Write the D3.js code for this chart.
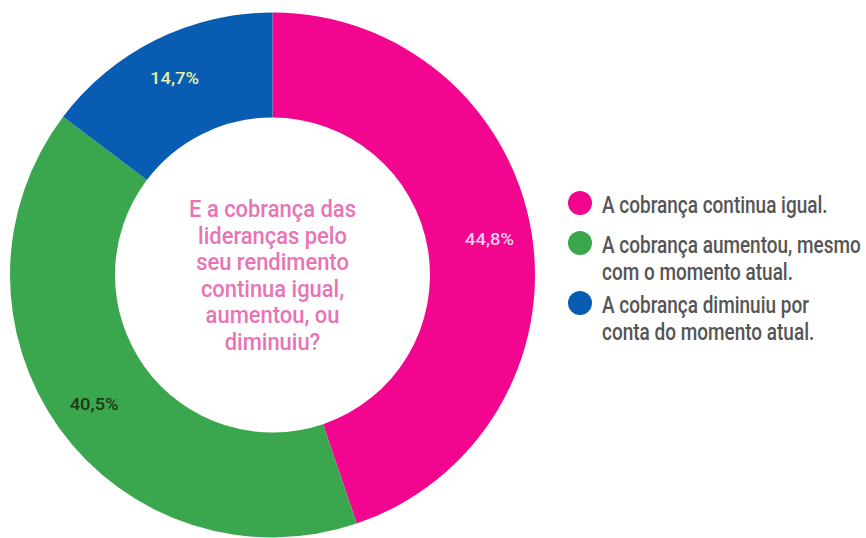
<!DOCTYPE html>
<html>
<head>
<meta charset="utf-8">
<script src="https://cdn.jsdelivr.net/npm/d3@7"></script>
<style>
  html, body { margin: 0; padding: 0; background: #ffffff; }
  svg { display: block; }
  text { font-family: "Roboto", "Noto Sans", sans-serif; font-weight: 500; }
</style>
</head>
<body>
<svg id="chart" width="866" height="538"></svg>
<script>
// Survey answers and their shares (%)
const categories = [
  "A cobrança continua igual.",
  "A cobrança aumentou, mesmo com o momento atual.",
  "A cobrança diminuiu por conta do momento atual."
];
const values = [44.8, 40.5, 14.7];
const valueLabels = ["44,8%", "40,5%", "14,7%"];
const legendLines = [
  ["A cobrança continua igual."],
  ["A cobrança aumentou, mesmo", "com o momento atual."],
  ["A cobrança diminuiu por", "conta do momento atual."]
];
const colors = ["#f2058f", "#3aa74e", "#085cb2"];
const labelColors = ["#f7d3ea", "#1c3a14", "#e6f0a2"];
const centerTitle = ["E a cobrança das", "lideranças pelo", "seu rendimento", "continua igual,", "aumentou, ou", "diminuiu?"];

const svg = d3.select("#chart");
const cx = 272.5, cy = 275;
const outerR = 262.5, innerR = 157.5;

// Narrow lettering: horizontal squeeze so a sample string reaches a given width
function squeeze(sample, size, width) {
  const probe = svg.append("text").attr("font-size", size).text(sample);
  const w = probe.node().getComputedTextLength();
  probe.remove();
  return width / w;
}
const kLegend = squeeze(legendLines[1][0], 24, 259);
const kTitle = squeeze(centerTitle[0], 24, 167);
const kValue = squeeze(valueLabels[0], 17, 49);

const pie = d3.pie().sort(null).value(d => d)(values);
const arc = d3.arc().innerRadius(innerR).outerRadius(outerR);
const labelArc = d3.arc().innerRadius(220).outerRadius(220);

const g = svg.append("g").attr("transform", `translate(${cx},${cy})`);

g.selectAll("path.slice")
  .data(pie)
  .join("path")
  .attr("class", "slice")
  .attr("d", arc)
  .attr("fill", (d, i) => colors[i]);

g.selectAll("text.value")
  .data(pie)
  .join("text")
  .attr("class", "value")
  .attr("transform", d => `translate(${labelArc.centroid(d)}) scale(${kValue},1)`)
  .attr("text-anchor", "middle")
  .attr("dy", "0.36em")
  .attr("font-size", 17)
  .attr("fill", (d, i) => labelColors[i])
  .text((d, i) => valueLabels[i]);

// Question in the donut hole
const title = g.append("text")
  .attr("transform", `scale(${kTitle},1)`)
  .attr("text-anchor", "middle")
  .attr("font-size", 24)
  .attr("fill", "#e874b6");
centerTitle.forEach((line, i) => {
  title.append("tspan")
    .attr("x", 0)
    .attr("y", -58 + i * 26.6)
    .text(line);
});

// Legend
const legend = svg.append("g").attr("transform", "translate(580,0)");
const legendY = [203, 243, 303];
legendLines.forEach((lines, i) => {
  const item = legend.append("g").attr("transform", `translate(0,${legendY[i]})`);
  item.append("circle").attr("r", 12).attr("fill", colors[i]);
  const t = item.append("text")
    .attr("transform", `translate(22,0) scale(${kLegend},1)`)
    .attr("font-size", 24)
    .attr("fill", "#555555");
  lines.forEach((line, j) => {
    t.append("tspan").attr("x", 0).attr("y", 10 + j * 27).text(line);
  });
});
</script>
</body>
</html>
